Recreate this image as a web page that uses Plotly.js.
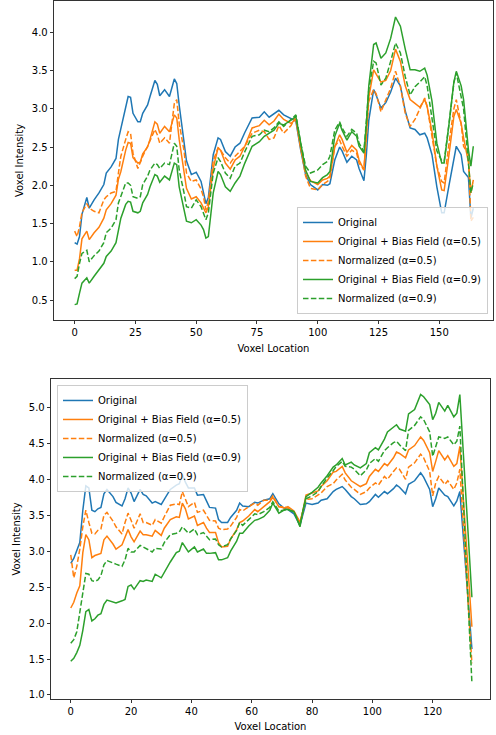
<!DOCTYPE html>
<html>
<head>
<meta charset="utf-8">
<script src="https://cdn.plot.ly/plotly-3.0.1.min.js"></script>
<style>html,body{margin:0;padding:0;background:#fff;}#chart{width:496px;height:735px;}</style>
</head>
<body>
<div id="chart"></div>
<script>
// ---------- Top panel data ----------
const xTop = [0,1,2,3,5,6,8,10,12,13,15,17,18,19,21,22,23,24,26,27,28,30,31,33,34,35,37,39,41,42,43,45,46,48,50,52,53,54,55,57,59,60,62,64,66,68,70,73,76,78,80,82,84,86,89,91,93,95,97,100,102,104,105,107,109,110,112,114,116,117,119,120,121,123,124,126,128,130,132,134,136,138,140,142,144,145,147,149,151,152,154,156,157,159,160,162,163,164];
const topOriginal = [1.25,1.23,1.33,1.62,1.84,1.70,1.81,1.90,2.01,2.16,
  2.24,2.35,2.60,2.74,3.06,3.16,3.15,2.94,2.83,2.83,
  2.94,3.05,3.16,3.37,3.32,3.17,3.25,3.16,3.39,3.33,
  3.05,2.55,2.32,2.14,2.17,2.05,1.90,1.76,1.84,2.40,
  2.62,2.60,2.44,2.38,2.50,2.55,2.69,2.88,2.89,2.96,
  2.89,2.93,2.98,2.92,2.87,2.84,2.46,2.14,2.01,1.94,
  2.01,2.00,2.02,2.33,2.50,2.45,2.30,2.38,2.33,2.22,
  2.06,2.40,2.85,3.25,3.18,3.01,3.08,3.22,3.40,3.30,
  2.97,2.75,2.73,2.66,2.68,2.62,2.40,1.98,1.64,1.64,
  2.00,2.35,2.51,2.40,2.18,2.10,1.57,1.70];
const topBias05 = [0.89,0.89,1.04,1.30,1.40,1.29,1.38,1.45,1.57,1.68,
  1.76,1.87,2.08,2.18,2.46,2.56,2.55,2.36,2.29,2.30,
  2.41,2.50,2.60,2.83,2.80,2.68,2.77,2.70,2.92,2.88,
  2.60,2.15,1.96,1.82,1.85,1.77,1.71,1.64,1.72,2.22,
  2.49,2.46,2.29,2.21,2.33,2.38,2.51,2.75,2.78,2.85,
  2.79,2.84,2.93,2.86,2.81,2.86,2.48,2.18,2.06,2.01,
  2.07,2.09,2.12,2.50,2.66,2.60,2.43,2.52,2.46,2.33,
  2.20,2.62,3.15,3.51,3.46,3.35,3.37,3.50,3.78,3.62,
  3.30,3.12,3.07,3.02,3.12,3.03,2.70,2.25,1.94,1.93,
  2.40,2.90,2.99,2.81,2.62,2.30,1.90,2.07];
const topNorm05 = [1.40,1.33,1.46,1.64,1.76,1.70,1.66,1.64,1.81,1.85,
  1.90,1.92,2.16,2.38,2.60,2.70,2.68,2.42,2.22,2.30,
  2.38,2.51,2.59,2.73,2.66,2.55,2.62,2.55,3.07,3.12,
  2.81,2.45,2.16,2.05,2.07,1.95,1.85,1.68,1.79,2.32,
  2.49,2.46,2.36,2.29,2.38,2.44,2.51,2.68,2.72,2.70,
  2.60,2.62,2.78,2.68,2.78,2.90,2.51,2.12,1.96,1.94,
  2.01,2.05,2.09,2.51,2.59,2.51,2.38,2.46,2.42,2.29,
  2.20,2.68,3.10,3.25,3.20,2.96,3.12,3.27,3.49,3.29,
  2.94,2.77,2.86,2.99,3.14,3.03,2.65,2.25,2.05,2.03,
  2.55,3.00,3.12,2.80,2.51,2.40,1.53,1.58];
const topBias09 = [0.44,0.45,0.59,0.72,0.79,0.72,0.81,0.90,0.98,1.07,
  1.14,1.25,1.42,1.57,1.75,1.79,1.78,1.66,1.64,1.66,
  1.77,1.88,1.98,2.14,2.12,2.04,2.12,2.07,2.29,2.27,
  1.98,1.68,1.53,1.51,1.55,1.48,1.42,1.31,1.33,1.90,
  2.18,2.14,1.98,1.92,2.03,2.12,2.29,2.51,2.57,2.64,
  2.68,2.72,2.81,2.79,2.85,2.90,2.55,2.20,2.05,2.03,
  2.10,2.14,2.18,2.64,2.81,2.72,2.59,2.70,2.64,2.51,
  2.42,2.80,3.30,3.84,3.86,3.66,3.73,3.92,4.20,4.08,
  3.78,3.51,3.51,3.49,3.53,3.44,3.10,2.55,2.29,2.29,
  2.80,3.35,3.49,3.30,3.12,2.46,2.25,2.51];
const topNorm09 = [0.78,0.81,0.98,1.11,1.15,1.00,1.08,1.14,1.25,1.38,
  1.44,1.55,1.77,1.85,2.03,2.03,2.00,1.85,1.83,1.85,
  2.01,2.12,2.20,2.29,2.27,2.22,2.29,2.27,2.55,2.51,
  2.20,1.90,1.72,1.70,1.81,1.72,1.64,1.55,1.64,2.16,
  2.36,2.31,2.16,2.09,2.25,2.29,2.44,2.64,2.66,2.72,
  2.70,2.75,2.83,2.77,2.86,2.92,2.55,2.25,2.16,2.20,
  2.27,2.31,2.38,2.72,2.83,2.75,2.64,2.73,2.68,2.55,
  2.44,2.80,3.25,3.62,3.60,3.31,3.40,3.62,3.86,3.73,
  3.42,3.18,3.29,3.35,3.42,3.30,2.85,2.45,2.32,2.31,
  2.80,3.34,3.47,3.15,3.00,2.29,1.90,2.03];

// ---------- Bottom panel data ----------
const xBot = [0,1,2,3,4,5,6,7,8,9,10,11,12,14,15,17,18,19,20,21,23,24,25,27,28,30,31,33,35,36,37,38,39,41,42,44,45,46,48,49,50,52,53,55,56,57,59,61,62,64,66,67,69,71,72,74,76,77,78,80,82,83,85,87,88,90,91,93,94,96,98,99,101,102,104,105,107,108,109,111,112,114,116,117,119,120,121,122,124,125,127,128,129,133];
const botOriginal = [2.83,2.90,3.01,3.12,3.57,3.91,3.88,3.57,3.55,3.59,
  3.61,3.80,3.86,3.76,3.68,3.63,3.73,3.88,3.81,3.69,
  3.86,3.79,3.77,3.67,3.69,3.65,3.72,3.86,3.92,3.94,
  4.07,3.96,3.88,3.88,3.78,3.79,3.70,3.61,3.60,3.44,
  3.40,3.40,3.47,3.57,3.67,3.63,3.62,3.68,3.67,3.71,
  3.73,3.80,3.66,3.59,3.58,3.52,3.36,3.52,3.67,3.65,
  3.67,3.71,3.73,3.83,3.86,3.90,3.86,3.76,3.73,3.65,
  3.66,3.69,3.79,3.75,3.83,3.80,3.87,3.92,3.89,3.80,
  3.93,3.98,4.09,4.03,3.86,3.62,3.73,3.88,3.78,3.76,
  3.63,3.70,3.83,1.64];
const botBias05 = [2.21,2.29,2.42,2.52,2.98,3.23,3.16,2.91,2.94,2.96,
  2.97,3.16,3.21,3.10,3.03,3.09,3.19,3.30,3.20,3.13,
  3.28,3.23,3.23,3.21,3.29,3.22,3.32,3.44,3.48,3.47,
  3.67,3.59,3.45,3.49,3.36,3.40,3.32,3.26,3.26,3.12,
  3.06,3.07,3.17,3.30,3.40,3.42,3.49,3.58,3.55,3.62,
  3.69,3.75,3.62,3.60,3.62,3.56,3.40,3.57,3.78,3.81,
  3.84,3.90,3.98,4.10,4.11,4.18,4.09,3.98,3.95,3.90,
  3.94,4.04,4.14,4.11,4.22,4.19,4.30,4.38,4.36,4.30,
  4.41,4.47,4.59,4.54,4.37,4.11,4.25,4.40,4.27,4.33,
  4.18,4.22,4.46,1.95];
const botNorm05 = [2.95,2.63,2.79,3.03,3.34,3.57,3.40,3.25,3.24,3.29,
  3.31,3.50,3.54,3.42,3.34,3.24,3.40,3.53,3.43,3.32,
  3.52,3.40,3.40,3.36,3.44,3.39,3.48,3.64,3.66,3.65,
  3.83,3.73,3.62,3.68,3.54,3.57,3.49,3.43,3.42,3.32,
  3.30,3.31,3.35,3.47,3.58,3.56,3.62,3.67,3.64,3.71,
  3.71,3.77,3.62,3.62,3.60,3.55,3.40,3.55,3.72,3.73,
  3.78,3.81,3.90,3.94,3.99,4.07,3.99,3.89,3.86,3.79,
  3.83,3.88,3.95,3.92,4.04,4.00,4.11,4.16,4.14,4.00,
  4.17,4.23,4.35,4.30,4.11,3.77,3.95,4.04,3.93,3.98,
  3.86,3.95,4.14,1.44];
const botBias09 = [1.47,1.51,1.59,1.69,1.90,2.16,2.19,2.03,2.06,2.11,
  2.13,2.26,2.32,2.30,2.28,2.31,2.33,2.51,2.53,2.47,
  2.59,2.58,2.60,2.58,2.68,2.63,2.71,2.85,2.98,3.00,
  3.12,3.06,2.99,3.06,2.99,3.03,2.97,2.97,2.98,2.88,
  2.88,2.91,3.00,3.14,3.25,3.25,3.35,3.43,3.44,3.48,
  3.57,3.67,3.53,3.58,3.58,3.55,3.34,3.57,3.76,3.82,
  3.89,3.95,4.05,4.17,4.20,4.29,4.20,4.24,4.20,4.16,
  4.22,4.37,4.44,4.41,4.56,4.66,4.73,4.76,4.70,4.67,
  4.91,4.97,5.18,5.15,5.04,4.83,4.92,5.07,4.95,5.03,
  4.87,4.92,5.18,2.36];
const botNorm09 = [1.72,1.77,1.88,2.16,2.47,2.69,2.68,2.59,2.58,2.60,
  2.66,2.81,2.87,2.83,2.82,2.79,2.88,3.04,2.99,2.99,
  3.08,3.06,3.04,2.99,3.04,3.03,3.12,3.23,3.25,3.27,
  3.34,3.30,3.25,3.31,3.23,3.26,3.21,3.16,3.17,3.09,
  3.06,3.09,3.17,3.29,3.40,3.36,3.44,3.52,3.51,3.55,
  3.61,3.69,3.56,3.58,3.58,3.55,3.36,3.56,3.73,3.77,
  3.83,3.90,4.02,4.12,4.18,4.25,4.18,4.17,4.14,4.05,
  4.13,4.22,4.29,4.25,4.40,4.44,4.51,4.53,4.48,4.40,
  4.68,4.75,4.87,4.83,4.66,4.32,4.44,4.59,4.57,4.59,
  4.48,4.53,4.74,1.17];

const seriesNames = ['Original','Original + Bias Field (\u03b1=0.5)','Normalized (\u03b1=0.5)','Original + Bias Field (\u03b1=0.9)','Normalized (\u03b1=0.9)'];
const xTopTicks = [0,25,50,75,100,125,150];
const xBotTicks = [0,20,40,60,80,100,120];

const colors = ['#1f77b4','#ff7f0e','#ff7f0e','#2ca02c','#2ca02c'];
const dashes = ['solid','solid','5.5px,2.4px','solid','5.5px,2.4px'];
const topSeries = [topOriginal, topBias05, topNorm05, topBias09, topNorm09];
const botSeries = [botOriginal, botBias05, botNorm05, botBias09, botNorm09];

const traces = [];
topSeries.forEach((ys, i) => traces.push({
  x: xTop, y: ys, type: 'scatter', mode: 'lines', name: seriesNames[i],
  line: {color: colors[i], width: 1.5, dash: dashes[i]},
  xaxis: 'x', yaxis: 'y', legend: 'legend'
}));
botSeries.forEach((ys, i) => traces.push({
  x: xBot, y: ys, type: 'scatter', mode: 'lines', name: seriesNames[i],
  line: {color: colors[i], width: 1.5, dash: dashes[i]},
  xaxis: 'x2', yaxis: 'y2', legend: 'legend2'
}));

const font = {family: 'DejaVu Sans, sans-serif', size: 10, color: '#000'};
const axisBase = {
  ticks: 'outside', ticklen: 3.5, tickwidth: 0.8, tickcolor: '#000',
  showline: true, linecolor: '#000', linewidth: 0.8, mirror: true,
  showgrid: false, zeroline: false, tickfont: font, automargin: false
};
const legendBase = {
  font: font, bgcolor: 'rgba(255,255,255,0.8)', bordercolor: '#cccccc', borderwidth: 1,
  tracegroupgap: 0
};

const layout = {
  width: 496, height: 735,
  margin: {l: 50, r: 3, t: 1, b: 36},
  paper_bgcolor: '#fff', plot_bgcolor: '#fff',
  font: font,
  showlegend: true,
  xaxis: Object.assign({}, axisBase, {
    domain: [0.00903, 1.0], anchor: 'y', range: [-8.5, 172.1],
    tickvals: xTopTicks, ticktext: xTopTicks.map(String),
    title: {text: 'Voxel Location', font: font, standoff: 7}
  }),
  yaxis: Object.assign({}, axisBase, {
    domain: [0.5430, 1.0], anchor: 'x', range: [0.239, 4.409],
    dtick: 0.5, tick0: 0, tickformat: '.1f',
    title: {text: 'Voxel Intensity', font: font, standoff: 6}
  }),
  xaxis2: Object.assign({}, axisBase, {
    domain: [0.00226, 0.99323], anchor: 'y2', range: [-6.55, 139.0],
    tickvals: xBotTicks, ticktext: xBotTicks.map(String),
    title: {text: 'Voxel Location', font: font, standoff: 6}
  }),
  yaxis2: Object.assign({}, axisBase, {
    domain: [0, 0.45845], anchor: 'x2', range: [0.944, 5.396],
    dtick: 0.5, tick0: 0, tickformat: '.1f',
    title: {text: 'Voxel Intensity', font: font, standoff: 6}
  }),
  legend: Object.assign({}, legendBase, {x: 0.9887, y: 0.5516, xanchor: 'right', yanchor: 'bottom'}),
  legend2: Object.assign({}, legendBase, {x: 0.0158, y: 0.4499, xanchor: 'left', yanchor: 'top'})
};

Plotly.newPlot('chart', traces, layout, {staticPlot: true, displayModeBar: false});
</script>
</body>
</html>
